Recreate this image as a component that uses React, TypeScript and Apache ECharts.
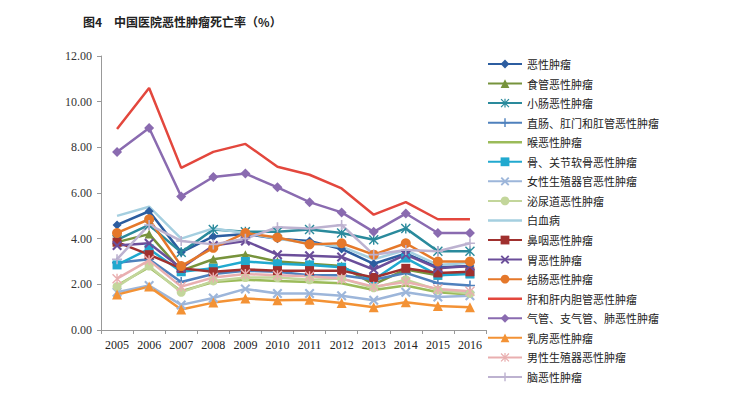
import React, { useEffect, useRef } from "react";
import * as echarts from "echarts";

const years = ["2005", "2006", "2007", "2008", "2009", "2010", "2011", "2012", "2013", "2014", "2015", "2016"];

const names = [
  "恶性肿瘤",
  "食管恶性肿瘤",
  "小肠恶性肿瘤",
  "直肠、肛门和肛管恶性肿瘤",
  "喉恶性肿瘤",
  "骨、关节软骨恶性肿瘤",
  "女性生殖器官恶性肿瘤",
  "泌尿道恶性肿瘤",
  "白血病",
  "鼻咽恶性肿瘤",
  "胃恶性肿瘤",
  "结肠恶性肿瘤",
  "肝和肝内胆管恶性肿瘤",
  "气管、支气管、肺恶性肿瘤",
  "乳房恶性肿瘤",
  "男性生殖器恶性肿瘤",
  "脑恶性肿瘤",
];

const exing = [4.6, 5.2, 3.4, 4.1, 4.2, 4.0, 3.9, 3.55, 2.9, 3.35, 2.75, 2.8];
const shiguan = [3.85, 4.2, 2.6, 3.1, 3.3, 3.0, 2.9, 2.8, 2.0, 2.65, 2.4, 2.5];
const xiaochang = [3.95, 4.6, 3.4, 4.4, 4.3, 4.3, 4.4, 4.25, 3.95, 4.45, 3.45, 3.45];
const zhichang = [2.95, 3.1, 2.1, 2.45, 2.6, 2.55, 2.4, 2.4, 2.2, 2.5, 2.05, 1.95];
const hou = [1.95, 2.75, 1.7, 2.1, 2.2, 2.15, 2.1, 2.05, 1.75, 1.95, 1.65, 1.55];
const gu = [2.85, 3.55, 2.55, 2.7, 3.0, 2.9, 2.85, 2.75, 2.2, 3.15, 2.4, 2.45];
const nvxing = [1.65, 1.95, 1.1, 1.4, 1.8, 1.6, 1.6, 1.5, 1.3, 1.65, 1.45, 1.5];
const miniao = [1.9, 2.8, 1.65, 2.15, 2.3, 2.3, 2.2, 2.25, 1.85, 2.2, 1.75, 1.6];
const baixue = [5.0, 5.4, 4.0, 4.45, 4.25, 4.0, 3.8, 3.65, 3.1, 3.5, 2.85, 2.95];
const biyan = [3.85, 3.3, 2.7, 2.55, 2.65, 2.6, 2.6, 2.6, 2.3, 2.7, 2.5, 2.55];
const wei = [3.7, 3.8, 2.7, 3.7, 3.9, 3.3, 3.25, 3.2, 2.65, 3.3, 2.7, 2.8];
const jiechang = [4.25, 4.85, 2.8, 3.6, 4.25, 4.05, 3.75, 3.8, 3.3, 3.8, 3.0, 3.0];
const gan = [8.8, 10.6, 7.1, 7.8, 8.15, 7.15, 6.8, 6.2, 5.05, 5.6, 4.85, 4.85];
const qiguan = [7.8, 8.85, 5.85, 6.7, 6.85, 6.25, 5.6, 5.15, 4.3, 5.1, 4.25, 4.25];
const rufang = [1.55, 1.9, 0.9, 1.2, 1.38, 1.3, 1.32, 1.18, 1.0, 1.22, 1.05, 1.0];
const nanxing = [2.25, 3.05, 1.9, 2.3, 2.45, 2.4, 2.35, 2.25, 1.9, 2.1, 1.8, 1.7];
const nao = [3.1, 4.6, 3.9, 3.75, 4.0, 4.5, 4.45, 4.6, 3.3, 3.5, 3.45, 3.8];

const seriesData = [exing, shiguan, xiaochang, zhichang, hou, gu, nvxing, miniao, baixue, biyan, wei, jiechang, gan, qiguan, rufang, nanxing, nao];

const colors = [
  "#2C5DA0", "#77933C", "#2A8A9C", "#4F81BD", "#9BBB59", "#21A9CF",
  "#9DB6DA", "#C3D69B", "#A5CFE0", "#A0302E", "#6B4E9A", "#E5782A",
  "#E3473D", "#8A6BB0", "#F39235", "#E9AFB0", "#BDB2D0",
];

const X_PATH = "path://M0,1.5L1.5,0L5,3.5L8.5,0L10,1.5L6.5,5L10,8.5L8.5,10L5,6.5L1.5,10L0,8.5L3.5,5Z";
const PLUS_PATH = "path://M4.2,0H5.8V4.2H10V5.8H5.8V10H4.2V5.8H0V4.2H4.2Z";
const STAR_PATH = "path://M4.3,0H5.7V10H4.3Z M0,1L1,0L10,9L9,10Z M9,0L10,1L1,10L0,9Z";
const LINE_ICON = "path://M0,0H34V0.01H0Z M0,4.3H34V6.7H0Z M0,10.99H34V11H0Z";

const symbols = [
  "diamond", "triangle", STAR_PATH, PLUS_PATH, "none", "rect",
  X_PATH, "circle", "none", "rect", X_PATH, "circle",
  "none", "diamond", "triangle", STAR_PATH, PLUS_PATH,
];

const symbolSizes = [9, 9, 10, 10, 0, 9, 10, 9, 0, 9, 10, 10, 0, 10, 10, 10, 10];

export default function App() {
  const ref = useRef<HTMLDivElement>(null);
  useEffect(() => {
    if (!ref.current) return;
    const chart = echarts.init(ref.current, null, { renderer: "svg" });
    const series = names.map((n, i) => ({
      name: n,
      type: "line",
      data: seriesData[i],
      symbol: symbols[i],
      symbolSize: symbolSizes[i],
      showSymbol: symbols[i] !== "none",
      lineStyle: { width: 2.5, color: colors[i] },
      itemStyle: { color: colors[i] },
      emphasis: { disabled: true },
    }));
    chart.setOption({
      animation: false,
      color: colors,
      title: {
        text: "图4　中国医院恶性肿瘤死亡率（%）",
        left: 78,
        top: 10,
        textStyle: { fontSize: 12, fontWeight: "bold", color: "#222", fontFamily: "Noto Sans CJK SC" },
      },
      legend: {
        orient: "vertical",
        left: 487,
        top: 58.5,
        padding: 0,
        itemWidth: 34,
        itemHeight: 11,
        itemGap: 8.56,
        textStyle: { fontSize: 11, color: "#222", fontFamily: "Noto Sans CJK SC" },
        data: names.map((n, i) => (symbols[i] === "none" ? { name: n, icon: LINE_ICON } : { name: n })),
      },
      grid: { left: 101, top: 56, right: 256, bottom: 65, containLabel: false },
      xAxis: {
        type: "category",
        data: years,
        boundaryGap: true,
        axisLine: { lineStyle: { color: "#999", width: 1 } },
        axisTick: { show: true, length: 4, lineStyle: { color: "#999" } },
        axisLabel: { margin: 9, fontSize: 12, color: "#222", fontFamily: "Liberation Serif" },
      },
      yAxis: {
        type: "value",
        min: 0,
        max: 12,
        interval: 2,
        splitLine: { show: false },
        axisLine: { show: true, lineStyle: { color: "#999", width: 1 } },
        axisTick: { show: true, length: 4, lineStyle: { color: "#999" } },
        axisLabel: {
          margin: 9,
          fontSize: 12,
          color: "#333",
          fontFamily: "Liberation Serif",
          formatter: (v: number) => v.toFixed(2),
        },
      },
      series,
    });
    return () => chart.dispose();
  }, []);
  return <div ref={ref} style={{ width: 742, height: 395, position: "absolute", left: 0, top: 0 }} />;
}
